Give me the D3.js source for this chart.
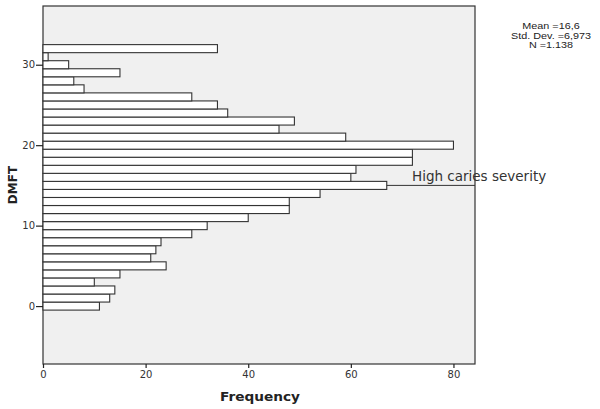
<!DOCTYPE html>
<html>
<head>
<meta charset="utf-8">
<script src="https://cdn.jsdelivr.net/npm/d3@7"></script>
<style>
  body { margin: 0; background: #fff; }
  svg { display: block; }
  text { font-family: "Liberation Sans", Arial, sans-serif; fill: #222; }
</style>
</head>
<body>
<div id="container"></div>
<script>
'use strict'
// DMFT values (one bar per score) and their frequencies
const dmft = [0,1,2,3,4,5,6,7,8,9,10,11,12,13,14,15,16,17,18,19,20,21,22,23,24,25,26,27,28,29,30,31,32];
const freq = [11,13,14,10,15,24,21,22,23,29,32,40,48,48,54,67,60,61,72,72,80,59,46,49,36,34,29,8,6,15,5,1,34];
const xTicks = [0,20,40,60,80];
const yTicks = [0,10,20,30];
const refValue = 15;
const refLabel = "High caries severity";
const stats = ["Mean =16,6", "Std. Dev. =6,973", "N =1.138"];

const width = 600, height = 409;
const plotL = 43, plotR = 475, plotT = 6, plotB = 364;

const svg = d3.select("#container").append("svg")
    .attr("width", width)
    .attr("height", height);

const x = d3.scaleLinear().domain([0, 84.2]).range([plotL, plotR]);
const y = d3.scaleLinear().domain([-7.2, 37.3]).range([plotB, plotT]);
const barH = y(0) - y(1);

// plot background
svg.append("rect")
    .attr("x", plotL).attr("y", plotT)
    .attr("width", plotR - plotL).attr("height", plotB - plotT)
    .attr("fill", "#f0f0f0")
    .attr("stroke", "#333").attr("stroke-width", 1.2);

// reference line (behind bars)
svg.append("line")
    .attr("x1", plotL).attr("x2", plotR)
    .attr("y1", y(refValue)).attr("y2", y(refValue))
    .attr("stroke", "#333").attr("stroke-width", 1);

svg.selectAll(".bar")
    .data(dmft)
    .enter().append("rect")
    .attr("class", "bar")
    .attr("x", x(0))
    .attr("y", d => y(d) - barH / 2)
    .attr("width", (d, i) => x(freq[i]) - x(0))
    .attr("height", barH)
    .attr("fill", "#fff")
    .attr("stroke", "#333")
    .attr("stroke-width", 1.1);

svg.append("text")
    .attr("x", 412).attr("y", y(refValue) - 4)
    .style("font-family", "'DejaVu Sans', sans-serif")
    .style("font-size", "13.5px")
    .style("fill", "#333")
    .text(refLabel);

// axes
const xAxis = svg.append("g")
    .attr("transform", `translate(0,${plotB})`)
    .call(d3.axisBottom(x).tickValues(xTicks).tickSize(4).tickPadding(3));
const yAxis = svg.append("g")
    .attr("transform", `translate(${plotL},0)`)
    .call(d3.axisLeft(y).tickValues(yTicks).tickSize(7).tickPadding(1));
[xAxis, yAxis].forEach(a => {
    a.select(".domain").remove();
    a.selectAll("line").attr("stroke", "#222").attr("stroke-width", 1.2);
    a.selectAll("text")
        .style("font-family", "'DejaVu Sans', sans-serif")
        .style("font-size", "10px").style("fill", "#333");
});

svg.append("text")
    .attr("x", 260).attr("y", 401)
    .attr("text-anchor", "middle")
    .attr("textLength", 80).attr("lengthAdjust", "spacingAndGlyphs")
    .style("font-family", "'DejaVu Sans', sans-serif")
    .style("font-weight", "bold").style("font-size", "12px")
    .text("Frequency");

svg.append("text")
    .attr("transform", `translate(17,185) rotate(-90)`)
    .attr("text-anchor", "middle")
    .style("font-family", "'DejaVu Sans', sans-serif")
    .style("font-weight", "bold").style("font-size", "12px")
    .text("DMFT");

// summary box, text a bit wider than tall as in the original
const statG = svg.append("g")
    .attr("transform", "translate(551,0) scale(1.2,1)");
statG.selectAll(".stat")
    .data(stats)
    .enter().append("text")
    .attr("class", "stat")
    .attr("x", 0)
    .attr("y", (d, i) => 29.5 + i * 9.3)
    .attr("text-anchor", "middle")
    .style("font-size", "9px")
    .text(d => d);
</script>
</body>
</html>
